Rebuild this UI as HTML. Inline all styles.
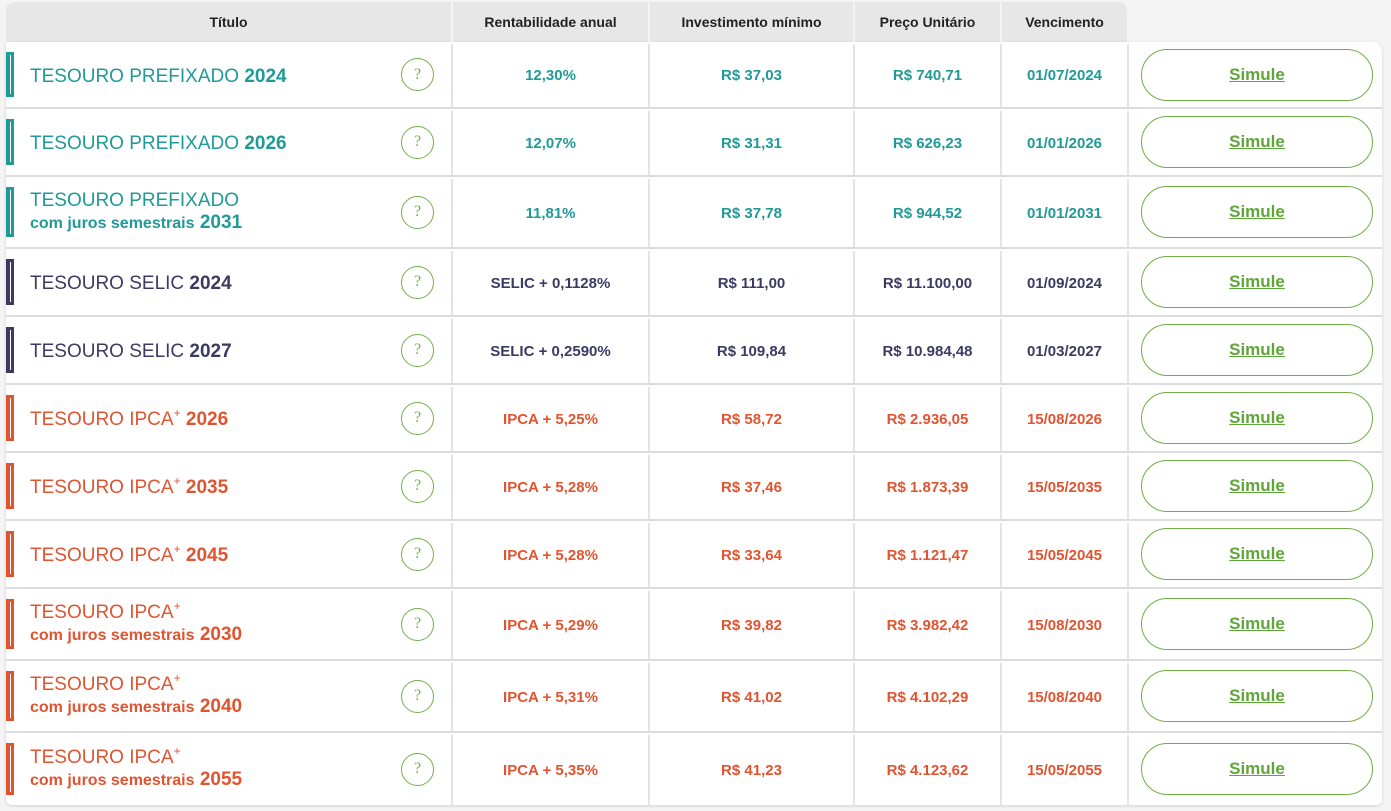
<!DOCTYPE html>
<html><head><meta charset="utf-8"><style>
*{box-sizing:border-box;margin:0;padding:0}
body{width:1391px;height:811px;background:#f4f4f4;font-family:"Liberation Sans",sans-serif;position:relative;overflow:hidden}
.hd{position:absolute;top:2px;height:40px;background:#e7e7e7;font-weight:bold;font-size:14px;color:#222;display:flex;align-items:center;justify-content:center;border-right:2px solid #f4f4f4}
.tbl{position:absolute;left:6px;top:42px;width:1376px;height:763px;background:#fff;border-radius:0 10px 6px 6px;box-shadow:0 1px 3px rgba(0,0,0,.15)}
.r{position:absolute;left:6px;width:1376px;border-bottom:2px solid #dcdcdc;display:flex;align-items:center}
.c{position:absolute;top:2px;bottom:0;display:flex;align-items:center;justify-content:center;font-weight:bold;font-size:15px;border-right:2px solid #e4e4e4}
.bar{position:absolute;left:0;top:10px;bottom:10px;width:8px;border:2px solid currentColor;background:#fff;box-shadow:inset 0 0 0 1px currentColor}
.bar:after{content:"";position:absolute;left:0;top:0;bottom:0;width:2px;background:currentColor}
.t{position:absolute;left:24px;font-size:19px;line-height:22px;margin-top:4px}
.t2{margin-top:0}
.t b{font-weight:bold}
.t .s{font-size:16px;font-weight:bold}
.q{position:absolute;left:395px;width:33px;height:33px;border:1.5px solid #74b04c;border-radius:50%;color:#74b04c;font-family:"Liberation Serif",serif;font-size:16px;display:flex;align-items:center;justify-content:center}
.btn{position:absolute;left:1135px;width:232px;height:52px;border:1.5px solid #6fae45;border-radius:26px;color:#5fa638;font-weight:bold;font-size:17px;text-decoration:underline;display:flex;align-items:center;justify-content:center}
.tl{color:#1f9a98}.pu{color:#3c3a63}.or{color:#e05430}
sup{font-size:12px;vertical-align:8px;line-height:0}
</style></head><body>
<div class="hd" style="left:6px;width:447px;border-radius:8px 0 0 0">Título</div>
<div class="hd" style="left:453px;width:197px">Rentabilidade anual</div>
<div class="hd" style="left:650px;width:205px">Investimento mínimo</div>
<div class="hd" style="left:855px;width:147px">Preço Unitário</div>
<div class="hd" style="left:1002px;width:127px;border-radius:0 10px 0 0">Vencimento</div>
<div class="tbl"></div>

<div class="r tl" style="top:42px;height:67px"><div class="bar"></div><div class="t">TESOURO PREFIXADO <b>2024</b></div><div class="q">?</div><div class="c" style="left:0;width:447px"></div><div class="c" style="left:447px;width:197px">12,30%</div><div class="c" style="left:644px;width:205px">R$ 37,03</div><div class="c" style="left:849px;width:147px">R$ 740,71</div><div class="c" style="left:996px;width:127px">01/07/2024</div><div class="btn">Simule</div></div>

<div class="r tl" style="top:109px;height:68px"><div class="bar"></div><div class="t">TESOURO PREFIXADO <b>2026</b></div><div class="q">?</div><div class="c" style="left:0;width:447px"></div><div class="c" style="left:447px;width:197px">12,07%</div><div class="c" style="left:644px;width:205px">R$ 31,31</div><div class="c" style="left:849px;width:147px">R$ 626,23</div><div class="c" style="left:996px;width:127px">01/01/2026</div><div class="btn">Simule</div></div>

<div class="r tl" style="top:177px;height:72px"><div class="bar"></div><div class="t t2">TESOURO PREFIXADO<br><span class="s">com juros semestrais</span> <b>2031</b></div><div class="q">?</div><div class="c" style="left:0;width:447px"></div><div class="c" style="left:447px;width:197px">11,81%</div><div class="c" style="left:644px;width:205px">R$ 37,78</div><div class="c" style="left:849px;width:147px">R$ 944,52</div><div class="c" style="left:996px;width:127px">01/01/2031</div><div class="btn">Simule</div></div>

<div class="r pu" style="top:249px;height:68px"><div class="bar"></div><div class="t">TESOURO SELIC <b>2024</b></div><div class="q">?</div><div class="c" style="left:0;width:447px"></div><div class="c" style="left:447px;width:197px">SELIC + 0,1128%</div><div class="c" style="left:644px;width:205px">R$ 111,00</div><div class="c" style="left:849px;width:147px">R$ 11.100,00</div><div class="c" style="left:996px;width:127px">01/09/2024</div><div class="btn">Simule</div></div>

<div class="r pu" style="top:317px;height:68px"><div class="bar"></div><div class="t">TESOURO SELIC <b>2027</b></div><div class="q">?</div><div class="c" style="left:0;width:447px"></div><div class="c" style="left:447px;width:197px">SELIC + 0,2590%</div><div class="c" style="left:644px;width:205px">R$ 109,84</div><div class="c" style="left:849px;width:147px">R$ 10.984,48</div><div class="c" style="left:996px;width:127px">01/03/2027</div><div class="btn">Simule</div></div>

<div class="r or" style="top:385px;height:68px"><div class="bar"></div><div class="t">TESOURO IPCA<sup>+</sup> <b>2026</b></div><div class="q">?</div><div class="c" style="left:0;width:447px"></div><div class="c" style="left:447px;width:197px">IPCA + 5,25%</div><div class="c" style="left:644px;width:205px">R$ 58,72</div><div class="c" style="left:849px;width:147px">R$ 2.936,05</div><div class="c" style="left:996px;width:127px">15/08/2026</div><div class="btn">Simule</div></div>

<div class="r or" style="top:453px;height:68px"><div class="bar"></div><div class="t">TESOURO IPCA<sup>+</sup> <b>2035</b></div><div class="q">?</div><div class="c" style="left:0;width:447px"></div><div class="c" style="left:447px;width:197px">IPCA + 5,28%</div><div class="c" style="left:644px;width:205px">R$ 37,46</div><div class="c" style="left:849px;width:147px">R$ 1.873,39</div><div class="c" style="left:996px;width:127px">15/05/2035</div><div class="btn">Simule</div></div>

<div class="r or" style="top:521px;height:68px"><div class="bar"></div><div class="t">TESOURO IPCA<sup>+</sup> <b>2045</b></div><div class="q">?</div><div class="c" style="left:0;width:447px"></div><div class="c" style="left:447px;width:197px">IPCA + 5,28%</div><div class="c" style="left:644px;width:205px">R$ 33,64</div><div class="c" style="left:849px;width:147px">R$ 1.121,47</div><div class="c" style="left:996px;width:127px">15/05/2045</div><div class="btn">Simule</div></div>

<div class="r or" style="top:589px;height:72px"><div class="bar"></div><div class="t t2">TESOURO IPCA<sup>+</sup><br><span class="s">com juros semestrais</span> <b>2030</b></div><div class="q">?</div><div class="c" style="left:0;width:447px"></div><div class="c" style="left:447px;width:197px">IPCA + 5,29%</div><div class="c" style="left:644px;width:205px">R$ 39,82</div><div class="c" style="left:849px;width:147px">R$ 3.982,42</div><div class="c" style="left:996px;width:127px">15/08/2030</div><div class="btn">Simule</div></div>

<div class="r or" style="top:661px;height:72px"><div class="bar"></div><div class="t t2">TESOURO IPCA<sup>+</sup><br><span class="s">com juros semestrais</span> <b>2040</b></div><div class="q">?</div><div class="c" style="left:0;width:447px"></div><div class="c" style="left:447px;width:197px">IPCA + 5,31%</div><div class="c" style="left:644px;width:205px">R$ 41,02</div><div class="c" style="left:849px;width:147px">R$ 4.102,29</div><div class="c" style="left:996px;width:127px">15/08/2040</div><div class="btn">Simule</div></div>

<div class="r or" style="top:733px;height:72px;border-bottom:none"><div class="bar"></div><div class="t t2">TESOURO IPCA<sup>+</sup><br><span class="s">com juros semestrais</span> <b>2055</b></div><div class="q">?</div><div class="c" style="left:0;width:447px"></div><div class="c" style="left:447px;width:197px">IPCA + 5,35%</div><div class="c" style="left:644px;width:205px">R$ 41,23</div><div class="c" style="left:849px;width:147px">R$ 4.123,62</div><div class="c" style="left:996px;width:127px">15/05/2055</div><div class="btn">Simule</div></div>
</body></html>
